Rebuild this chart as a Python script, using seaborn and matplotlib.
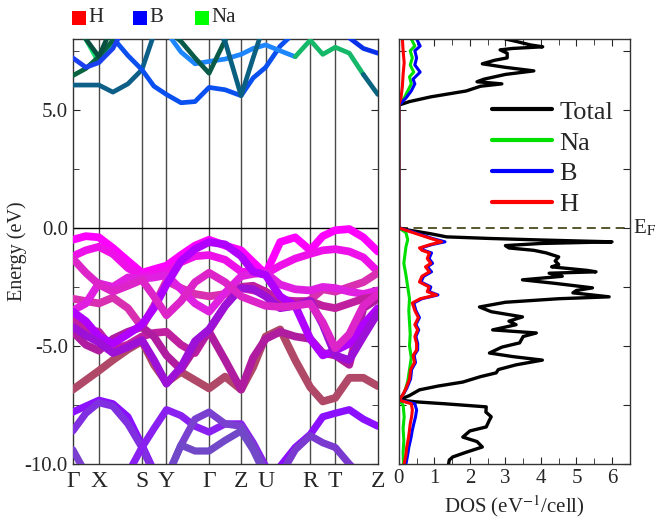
import matplotlib
matplotlib.use("Agg")
import matplotlib.pyplot as plt
from matplotlib.patches import Rectangle
from matplotlib.ticker import MultipleLocator, FormatStrFormatter
import numpy as np
import seaborn as sns

nan = np.nan

# k path (distance along path) and labels
k_path = [0, 13, 26, 40, 55, 69, 81, 93.5, 108, 122, 136, 152, 168, 180, 192.5,
          207, 222, 237, 249.5, 262, 276, 290, 304.5]
k_ticks = [0, 26, 69, 93.5, 136, 168, 192.5, 237, 262, 304.5]
k_labels = ["Γ", "X", "S", "Y", "Γ", "Z", "U", "R", "T", "Z"]

# valence bands (eV), upper group
v1 = [-0.50, -0.35, -0.40, -0.85, -1.40, -1.90, -1.75, -1.60, -1.15, -0.75, -0.50, -0.75, -0.95, -1.45, -1.95, -0.60, -0.40, -0.95, -0.35, -0.10, -0.05, -0.40, -1.00]
v2 = [-1.20, -0.95, -0.80, -1.10, -1.70, -2.05, -1.95, -1.85, -1.45, -1.20, -1.15, -1.35, -1.85, -1.90, -1.95, -1.60, -1.30, -1.10, -0.95, -0.90, -1.00, -1.25, -1.85]
v3 = [-3.00, -3.10, -3.20, -2.95, -3.40, -4.20, -3.30, -2.25, -2.55, -2.80, -2.90, -2.80, -2.55, -2.65, -2.70, -3.30, -3.25, -3.05, -2.60, -2.70, -2.50, -2.30, -1.90]
v4 = [-3.50, -3.20, -2.35, -2.50, -2.10, -2.15, -2.10, -2.00, -2.60, -3.20, -3.55, -2.75, -2.05, -1.95, -1.90, -2.40, -2.60, -2.65, -2.50, -2.55, -2.70, -2.80, -2.65]
v5 = [-3.85, -4.30, -4.40, -5.15, -4.95, -4.60, -4.45, -4.40, -4.95, -5.30, -4.35, -3.30, -2.50, -2.45, -2.70, -3.05, -3.10, -3.10, -3.30, -3.40, -3.20, -3.00, -2.90]
v6 = [-6.85, -6.45, -6.05, -5.60, -5.15, -4.80, -5.80, -6.55, -6.10, -6.45, -6.80, -6.30, -6.85, -5.90, -4.60, -4.30, -5.60, -6.75, -7.35, -7.20, -6.35, -6.35, -6.70]
v7 = [-4.40, -4.95, -5.20, -4.70, -4.40, -4.20, -4.60, -5.40, -6.00, -5.10, -4.40, -5.60, -6.85, -5.50, -4.70, -4.40, -4.60, -4.70, -5.30, -5.40, -5.80, -3.40, -3.00]
v8 = [-3.55, -3.95, -4.60, -4.90, -4.50, -4.10, -3.40, -2.40, -1.40, -0.90, -0.60, -0.70, -1.20, -1.85, -2.00, -2.90, -3.30, -4.70, -5.40, -5.20, -4.90, -4.10, -3.40]
v9 = [-4.20, -4.55, -4.85, -5.30, -5.05, -4.75, -5.60, -6.60, -5.90, -4.80, -4.30, -3.30, -2.55, -2.60, -2.90, -3.40, -3.30, -3.10, -4.10, -5.40, -5.60, -4.60, -3.60]
v10 = [-1.30, -1.90, -2.40, -2.70, -2.45, -2.20, -2.90, -3.70, -3.10, -2.30, -1.90, -2.30, -2.90, -3.10, -3.30, -3.35, -3.30, -3.20, -4.00, -5.10, -4.50, -3.30, -2.80]

# valence bands, lower group
l1 = [-7.80, -7.55, -7.30, -7.45, -8.00, -9.20, -10.30, -11, -11, -11, -11, -11, -11, -11, -11, -10.10, -9.30, -8.75, -8.00, -7.85, -7.70, -8.10, -8.40]
l2 = [-8.60, -7.85, -7.40, -7.55, -8.30, -9.30, -10.40, -11, -11, -11, -11, -11, -11, -11, -11, -11, -11, -11, -11, -11, -11, -11, -11]
l3 = [-11, -11, -11, -11, -10.40, -9.30, -8.50, -7.70, -7.95, -8.40, -8.65, -8.30, -8.30, -9.10, -10.10, -11, -11, -11, -11, -11, -11, -11, -11]
l4 = [-9.40, -10.40, -11, -11, -11, -11, -11, -10.60, -9.20, -8.10, -7.80, -8.30, -8.40, -9.20, -10.30, -11, -11, -11, -11, -11, -11, -11, -11]
l5 = [-11, -11, -11, -11, -11, -11, -11, -10.60, -9.20, -9.45, -9.45, -9.00, -8.60, -9.40, -10.50, -11, -11, -11, -11, -11, -11, -11, -11]
l6 = [-11, -11, -11, -11, -11, -11, -11, -11, -11, -11, -11, -11, -11, -11, -11, -10.50, -9.40, -8.80, -9.10, -9.30, -10.00, -10.60, -11]

# conduction bands (nan = not drawn on that part of the path)
c1 = [6.05, 6.05, 6.05, 5.75, 6.10, 6.70, 8.20, 8.8, nan, nan, nan, nan, nan, nan, nan, nan, nan, nan, nan, nan, nan, nan, nan]
c2 = [nan, nan, 8.5, 8.05, 7.30, 6.70, 6.00, 5.65, 5.30, 5.35, 5.95, 5.85, 5.60, 6.35, 6.80, 7.70, 8.30, 8.8, nan, nan, nan, nan, nan]
c3 = [nan, nan, nan, nan, nan, nan, 8.8, 8.30, 7.45, 6.95, 7.05, 7.15, 7.35, 7.60, 7.75, 7.50, 7.25, nan, nan, nan, nan, nan, nan]
c4 = [nan, nan, nan, nan, nan, nan, 8.8, 8.40, 7.90, 7.20, 6.55, 7.95, 8.8, nan, nan, nan, nan, nan, nan, nan, nan, nan, nan]
c5 = [8.8, 8.00, 7.00, 7.90, 8.8, nan, nan, nan, nan, nan, nan, nan, nan, nan, nan, nan, nan, nan, nan, nan, nan, nan, nan]
c6 = [6.45, 6.75, 7.25, 7.95, 8.8, nan, nan, nan, nan, nan, nan, nan, nan, nan, nan, nan, nan, nan, nan, nan, nan, nan, nan]
c7 = [8.8, 8.00, 7.25, 8.6, nan, nan, nan, nan, nan, nan, nan, nan, nan, nan, nan, nan, nan, nan, nan, nan, nan, nan, nan]
c8 = [7.20, 6.80, 7.00, 7.60, 8.8, nan, nan, nan, nan, nan, nan, nan, nan, nan, nan, nan, nan, nan, nan, nan, nan, nan, nan]
c9 = [nan, nan, nan, nan, nan, nan, nan, nan, nan, nan, nan, nan, nan, nan, nan, nan, nan, nan, 8.8, 8.50, 8.05, 7.60, 7.40]
c10 = [nan, nan, nan, nan, nan, nan, nan, nan, nan, nan, 8.8, 7.90, 5.60, 7.20, 8.8, nan, nan, nan, nan, nan, nan, nan, nan]
c11 = [nan, nan, nan, nan, nan, nan, nan, nan, nan, nan, nan, nan, nan, nan, nan, nan, 7.25, 7.95, 7.35, 7.65, 7.40, 6.50, nan]
c12 = [nan, nan, nan, nan, nan, nan, nan, nan, nan, nan, nan, nan, nan, nan, nan, nan, nan, nan, nan, nan, nan, 6.50, 5.65]

valence_bands = [v1, v2, v3, v4, v5, v6, v7, v8, v9, v10]
valence_colors = ["#ff00ff", "#ee10e8", "#d830b0", "#e020e0", "#c020a0",
                  "#b04868", "#b01ca0", "#b000ff", "#9c10d8", "#dc24c8"]
lower_bands = [l1, l2, l3, l4, l5, l6]
lower_colors = ["#8a10ff", "#8030e0", "#8a20f0", "#7a40d0", "#7048c8", "#7a3ad0"]
cond_bands = [c1, c2, c3, c4, c5, c6, c7, c8, c9, c10, c11, c12]
cond_colors = ["#0e5f88", "#0a50f0", "#1e86ff", "#0a5a4a", "#10e070", "#08643e",
               "#0a5040", "#1a40f0", "#0830e8", "#0a6080", "#14b868", "#0a6480"]

# DOS (eV^-1/cell) vs energy
tot_e = [8.0, 7.9, 7.75, 7.67, 7.6, 7.54, 7.4, 7.2, 7.1, 6.95, 6.8, 6.65, 6.5, 6.3, 6.19, 6.1, 6.0, 5.8, 5.55, 5.35, 5.2,
         0.0, -0.1, -0.25, -0.38, -0.45, -0.51, -0.56, -0.59, -0.66, -0.75, -0.85, -0.95, -1.06, -1.23, -1.4, -1.55, -1.65,
         -1.8, -1.86, -1.92, -2.05, -2.2, -2.35, -2.54, -2.65, -2.75, -2.92, -3.0, -3.15, -3.35, -3.55, -3.77, -3.95,
         -4.1, -4.32, -4.45, -4.6, -4.87, -5.05, -5.3, -5.45, -5.6, -5.8, -6.0, -6.14, -6.3, -6.53, -6.7, -6.86, -7.1,
         -7.29, -7.37, -7.45, -7.58, -7.8, -8.0, -8.14, -8.3, -8.43, -8.6, -8.86, -9.05, -9.28, -9.5, -9.7, -9.83, -10.0]
tot_d = [3.0, 3.3, 3.7, 4.05, 3.2, 2.85, 3.05, 3.05, 2.7, 2.35, 3.0, 3.8, 3.0, 2.4, 2.2, 2.9, 2.3, 1.9, 0.9, 0.3, 0.0,
         0.0, 0.3, 0.9, 1.34, 2.6, 3.95, 5.2, 6.0, 4.0, 3.0, 3.1, 3.8, 4.15, 4.5, 4.4, 4.5, 4.3,
         5.3, 5.55, 4.23, 4.6, 3.48, 4.4, 5.45, 5.0, 4.9, 5.92, 4.5, 3.0, 2.27, 2.6, 3.48, 3.1,
         3.3, 2.64, 3.87, 3.5, 3.4, 2.9, 2.55, 3.2, 4.04, 3.3, 2.8, 2.74, 2.3, 1.8, 1.1, 0.58, 0.3,
         0.0, 0.5, 1.3, 2.46, 2.45, 2.6, 2.55, 2.5, 2.46, 2.0, 1.8, 2.2, 2.35, 1.9, 1.52, 1.42, 1.4]

h_e = [8.0, 7.5, 7.0, 6.5, 6.0, 5.5, 5.2, 0.0, -0.2, -0.45, -0.59, -0.7, -0.85, -0.95, -1.06, -1.3, -1.5, -1.65, -1.86,
       -2.05, -2.29, -2.5, -2.7, -2.84, -3.0, -3.18, -3.5, -3.8, -4.1, -4.32, -4.6, -4.9, -5.17, -5.4, -5.7, -6.0,
       -6.4, -6.8, -7.1, -7.29, -7.45, -7.71, -8.0, -8.3, -8.56, -8.9, -9.3, -9.6, -10.0]
h_d = [0.10, 0.12, 0.15, 0.12, 0.10, 0.06, 0.0, 0.0, 0.4, 0.9, 1.2, 0.9, 0.58, 0.65, 0.86, 0.8, 0.9, 0.75, 0.86,
       0.65, 0.58, 0.85, 0.8, 1.06, 0.6, 0.38, 0.45, 0.55, 0.45, 0.53, 0.45, 0.5, 0.5, 0.4, 0.44, 0.33,
       0.3, 0.2, 0.1, 0.0, 0.35, 0.38, 0.36, 0.32, 0.3, 0.27, 0.22, 0.2, 0.15]

b_e = [8.0, 7.7, 7.5, 7.2, 6.9, 6.6, 6.3, 6.1, 5.8, 5.5, 5.2, 0.0, -0.2, -0.45, -0.59, -0.7, -0.85, -0.95, -1.06, -1.3,
       -1.5, -1.65, -1.86, -2.05, -2.29, -2.5, -2.7, -2.84, -3.0, -3.18, -3.5, -3.8, -4.1, -4.32, -4.6, -4.9, -5.17,
       -5.4, -5.7, -6.0, -6.4, -6.8, -7.1, -7.29, -7.45, -7.71, -8.0, -8.3, -8.56, -8.9, -9.3, -9.6, -10.0]
b_d = [0.5, 0.6, 0.45, 0.5, 0.45, 0.6, 0.4, 0.45, 0.35, 0.2, 0.0, 0.0, 0.45, 0.95, 1.3, 0.95, 0.62, 0.7, 0.92, 0.85,
       0.95, 0.8, 0.92, 0.7, 0.62, 0.9, 0.85, 1.1, 0.65, 0.42, 0.48, 0.58, 0.48, 0.56, 0.48, 0.53, 0.53,
       0.43, 0.47, 0.36, 0.33, 0.22, 0.1, 0.0, 0.45, 0.5, 0.47, 0.42, 0.38, 0.34, 0.28, 0.25, 0.2]

na_e = [8.0, 7.7, 7.5, 7.2, 6.9, 6.6, 6.4, 6.1, 5.8, 5.5, 5.2, 0.0, -0.2, -0.5, -0.8, -1.5, -2.0, -2.5, -3.0, -3.5,
        -4.0, -4.5, -5.0, -5.5, -6.0, -6.5, -7.0, -7.29, -7.5, -8.0, -8.5, -9.0, -9.5, -10.0]
na_d = [0.35, 0.45, 0.32, 0.38, 0.32, 0.42, 0.3, 0.35, 0.25, 0.15, 0.0, 0.0, 0.2, 0.25, 0.2, 0.14, 0.2, 0.25, 0.3, 0.28,
        0.3, 0.32, 0.3, 0.35, 0.3, 0.25, 0.15, 0.0, 0.12, 0.15, 0.12, 0.14, 0.12, 0.13]

sns.set_style("ticks")
plt.rcParams["font.family"] = ["Liberation Serif", "DejaVu Serif"]
plt.rcParams["mathtext.fontset"] = "stix"
plt.rcParams["axes.unicode_minus"] = False

fig = plt.figure(figsize=(6.56, 5.25), dpi=100)
ax1 = fig.add_axes([0.111, 0.1162, 0.465, 0.8095])
ax2 = fig.add_axes([0.608, 0.1162, 0.352, 0.8095])

# band structure
for k in k_ticks[1:-1]:
    ax1.axvline(k, color="#4a4a4a", lw=1.0, zorder=1)
ax1.axhline(0, color="black", lw=1.0, zorder=1)

line_kw = dict(sort=False, estimator=None, solid_capstyle="round", solid_joinstyle="round")
for band, col in zip(cond_bands, cond_colors):
    sns.lineplot(x=k_path, y=band, color=col, lw=3.4, ax=ax1, zorder=3, legend=False, **line_kw)
for band, col in zip(lower_bands, lower_colors):
    sns.lineplot(x=k_path, y=band, color=col, lw=5.2, ax=ax1, zorder=3, legend=False, **line_kw)
for band, col in zip(valence_bands, valence_colors):
    sns.lineplot(x=k_path, y=band, color=col, lw=5.6, ax=ax1, zorder=3, legend=False, **line_kw)

ax1.set_xlim(0, 304.5)
ax1.set_ylim(-10, 8)
ax1.set_xticks(k_ticks)
ax1.set_xticklabels(k_labels, fontsize=17)
ax1.tick_params(axis="x", length=0, pad=5)
ax1.yaxis.set_major_locator(MultipleLocator(5))
ax1.yaxis.set_minor_locator(MultipleLocator(2.5))
ax1.yaxis.set_major_formatter(FormatStrFormatter("%.1f"))
ax1.tick_params(axis="y", which="both", direction="in", left=True, right=True, labelsize=15)
ax1.tick_params(axis="y", which="major", length=5)
ax1.tick_params(axis="y", which="minor", length=4)
ax1.set_ylabel("Energy (eV)", fontsize=14.5)
ax1.yaxis.set_label_coords(-0.15, 0.5)
ax1.set_xlabel("")
for s in ax1.spines.values():
    s.set_linewidth(1.0)
    s.set_color("#333333")

# DOS
sns.lineplot(x=tot_d, y=tot_e, color="black", lw=2.4, ax=ax2, label="Total", **line_kw)
sns.lineplot(x=na_d, y=na_e, color="#00e000", lw=2.2, ax=ax2, label="Na", **line_kw)
sns.lineplot(x=b_d, y=b_e, color="#0000ff", lw=2.2, ax=ax2, label="B", **line_kw)
sns.lineplot(x=h_d, y=h_e, color="#ff0000", lw=2.2, ax=ax2, label="H", **line_kw)
ax2.axhline(0, color="#4a4a1e", lw=1.3, ls=(0, (5, 3)), zorder=0)

ax2.set_xlim(0, 6.5)
ax2.set_ylim(-10, 8)
ax2.xaxis.set_major_locator(MultipleLocator(1))
ax2.xaxis.set_minor_locator(MultipleLocator(0.5))
ax2.yaxis.set_major_locator(MultipleLocator(2.5))
ax2.tick_params(axis="both", which="both", direction="in", top=True, right=True, left=True, bottom=True)
ax2.tick_params(axis="x", which="major", length=5, labelsize=15)
ax2.tick_params(axis="x", which="minor", length=4)
ax2.tick_params(axis="y", length=5, labelleft=False)
ax2.set_xlabel("DOS (eV$^{-1}$/cell)", fontsize=15, labelpad=4)
ax2.set_ylabel("")
for s in ax2.spines.values():
    s.set_linewidth(1.0)
    s.set_color("#333333")

ax2.legend(loc="upper left", bbox_to_anchor=(0.405, 0.856), frameon=False, fontsize=19,
           handlelength=2.27, handletextpad=0.27, labelspacing=0.28, borderpad=0, borderaxespad=0)
for ln in ax2.get_legend().get_lines():
    ln.set_linewidth(3)

ax2.text(1.015, 0, "E$_{\\mathrm{F}}$", transform=ax2.get_yaxis_transform(), fontsize=15,
         va="center", ha="left")

# element colour key above the bands
key_names = ["H", "B", "Na"]
key_colors = ["#ff0000", "#0000ff", "#00ff00"]
key_x = [72, 133, 195]
for name, col, x in zip(key_names, key_colors, key_x):
    fig.add_artist(Rectangle((x / 656, 1 - 25 / 525), 14 / 656, 14 / 525,
                             transform=fig.transFigure, color=col, lw=0))
    fig.text((x + 16) / 656, 1 - 18 / 525, name, fontsize=15, va="center", ha="left")

fig.savefig("out.png", dpi=100)
